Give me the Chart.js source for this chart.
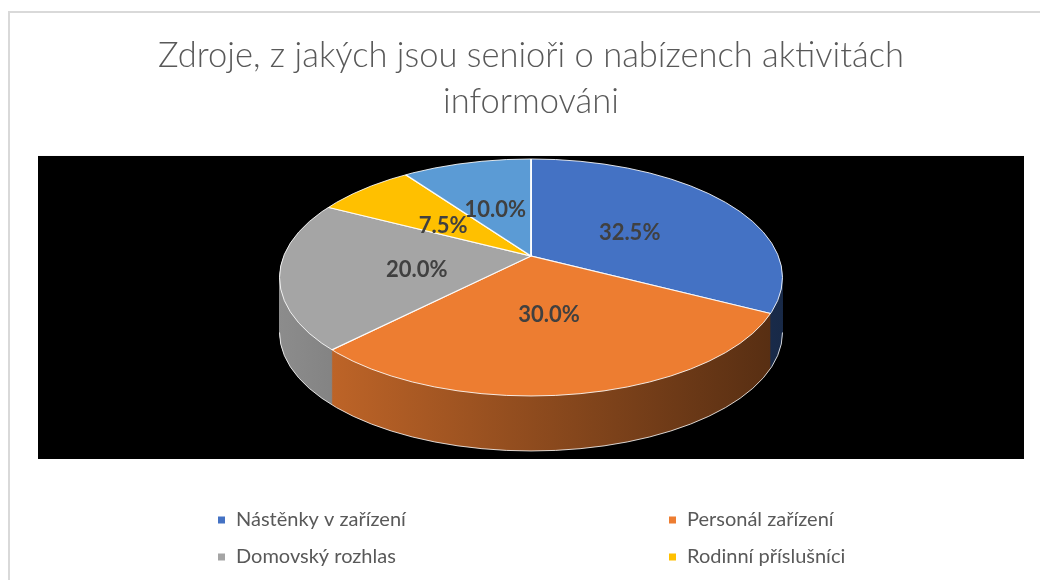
<!DOCTYPE html>
<html><head><meta charset="utf-8">
<script src="https://cdn.jsdelivr.net/npm/chart.js@4.4.1/dist/chart.umd.min.js"></script>
<style>html,body{margin:0;padding:0;background:#fff;overflow:hidden}</style>
</head><body>
<canvas id="c" width="1040" height="580"></canvas>
<script>
// ---- data ----
const titleLines = ['Zdroje, z jakých jsou senioři o nabízench aktivitách', 'informováni'];
const categories = ['Nástěnky v zařízení', 'Personál zařízení', 'Domovský rozhlas', 'Rodinní příslušníci', 'Jiné'];
const shares = [32.5, 30.0, 20.0, 7.5, 10.0];
const sliceColors = ['#4472C4', '#ED7D31', '#A5A5A5', '#FFC000', '#5B9BD5'];

// ---- 3D look (styling) ----
const VIEW = { rx: 251.5, ry: 118.5, cyOffset: 121.5, depth: 55, perspLift: 21.5, overscan: 1.35,
               labelLift: 30, labelFrac: 0.46 };
const LEGEND = { cols: [218, 669], top: 520, rowGap: 37, box: 7, textGap: 18, font: '400 20px Lato', color: '#595959' };

function shade(hex, f) {
  const n = parseInt(hex.slice(1), 16);
  const r = (n >> 16) & 255, g = (n >> 8) & 255, b = n & 255;
  return 'rgb(' + Math.round(r * f) + ',' + Math.round(g * f) + ',' + Math.round(b * f) + ')';
}
function geom(chart) {
  const meta = chart.getDatasetMeta(0);
  const a = meta.data[0];
  const ca = chart.chartArea;
  return { arcs: meta.data, ox: a.x, oy: a.y, R: a.outerRadius, tx: a.x, ty: ca.top + VIEW.cyOffset };
}
function ellipsePath(ctx, g, dy) {
  ctx.beginPath();
  ctx.ellipse(g.tx, g.ty + dy, VIEW.rx, VIEW.ry, 0, 0, Math.PI * 2);
}
function pieTransform(ctx, g, dy) {
  const k = VIEW.overscan;
  ctx.translate(g.tx, g.ty - VIEW.perspLift + dy);
  ctx.scale(k * VIEW.rx / g.R, k * VIEW.ry / g.R);
  ctx.translate(-g.ox, -g.oy);
}

const pie3d = {
  id: 'pie3d',
  beforeDraw(chart) {
    const { ctx, chartArea: ca } = chart;
    ctx.save();
    ctx.fillStyle = '#fff';
    ctx.fillRect(0, 0, chart.width, chart.height);
    ctx.strokeStyle = '#d9d9d9';
    ctx.lineWidth = 2;
    ctx.strokeRect(9, 12, chart.width + 20, chart.height + 20);
    ctx.fillStyle = '#000';
    ctx.fillRect(ca.left, ca.top, ca.width, ca.height);
    ctx.restore();
  },
  beforeDatasetsDraw(chart) {
    const g = geom(chart);
    const ctx = chart.ctx;
    const k = VIEW.overscan;
    const grads = g.arcs.map((arc, i) => {
      const gr = ctx.createLinearGradient(g.ox - g.R / k, 0, g.ox + g.R / k, 0);
      gr.addColorStop(0, shade(sliceColors[i], 0.85));
      gr.addColorStop(1, shade(sliceColors[i], 0.36));
      return gr;
    });
    for (let d = VIEW.depth; d >= 0.5; d -= 0.5) {
      ctx.save();
      ellipsePath(ctx, g, d);
      ctx.clip();
      pieTransform(ctx, g, d);
      g.arcs.forEach((arc, i) => {
        const c = Object.create(arc);
        c.options = Object.assign({}, arc.options, { backgroundColor: grads[i], borderWidth: 0 });
        c.draw(ctx);
      });
      ctx.restore();
    }
    // bottom edge highlight of the side wall
    ctx.save();
    ctx.strokeStyle = 'rgba(255,255,255,0.8)';
    ctx.lineWidth = 1;
    ctx.beginPath();
    ctx.ellipse(g.tx, g.ty + VIEW.depth, VIEW.rx, VIEW.ry, 0, 0, Math.PI);
    ctx.stroke();
    ctx.restore();
    // top face: clipped to the rim, drawn by the chart itself
    ctx.save();
    ellipsePath(ctx, g, 0);
    ctx.clip();
    pieTransform(ctx, g, 0);
  },
  afterDatasetsDraw(chart) {
    const ctx = chart.ctx;
    ctx.restore();
    const g = geom(chart);
    ctx.save();
    ctx.strokeStyle = 'rgba(255,255,255,0.85)';
    ctx.lineWidth = 1;
    ellipsePath(ctx, g, 0);
    ctx.stroke();
    ctx.font = '700 22px Lato';
    ctx.fillStyle = '#404040';
    ctx.textAlign = 'center';
    ctx.textBaseline = 'middle';
    g.arcs.forEach((arc, i) => {
      const p = arc.getProps(['startAngle', 'endAngle']);
      const mid = (p.startAngle + p.endAngle) / 2;
      const rimX = g.tx + VIEW.rx * Math.cos(mid);
      const rimY = g.ty + VIEW.ry * Math.sin(mid);
      const ax = g.tx, ay = g.ty - VIEW.labelLift;
      const x = ax + VIEW.labelFrac * (rimX - ax);
      const y = ay + VIEW.labelFrac * (rimY - ay);
      ctx.fillText(shares[i].toFixed(1) + '%', x, y);
    });
    ctx.restore();
  },
  afterDraw(chart) {
    const ctx = chart.ctx;
    ctx.save();
    ctx.font = LEGEND.font;
    ctx.textBaseline = 'middle';
    ctx.textAlign = 'left';
    categories.forEach((name, i) => {
      const col = i % 2, row = Math.floor(i / 2);
      const x = LEGEND.cols[col], y = LEGEND.top + row * LEGEND.rowGap;
      ctx.fillStyle = sliceColors[i];
      ctx.fillRect(x, y - LEGEND.box / 2, LEGEND.box, LEGEND.box);
      ctx.fillStyle = LEGEND.color;
      ctx.fillText(name, x + LEGEND.textGap, y);
    });
    ctx.restore();
  }
};

new Chart(document.getElementById('c'), {
  type: 'pie',
  data: {
    labels: categories,
    datasets: [{
      data: shares,
      backgroundColor: sliceColors,
      borderColor: 'rgba(255,255,255,0.9)',
      borderWidth: 0.9,
      hoverOffset: 0,
      clip: false
    }]
  },
  options: {
    responsive: false,
    animation: false,
    events: [],
    devicePixelRatio: 1,
    layout: { padding: { left: 38, right: 16, top: 12, bottom: 121 } },
    plugins: {
      legend: { display: false },
      tooltip: { enabled: false },
      title: {
        display: true,
        text: titleLines,
        color: '#595959',
        font: { family: 'Lato', size: 34.5, weight: 300, lineHeight: 1.333 },
        padding: { top: 20.5, bottom: 31.5 }
      }
    }
  },
  plugins: [pie3d]
});
</script>
</body></html>
